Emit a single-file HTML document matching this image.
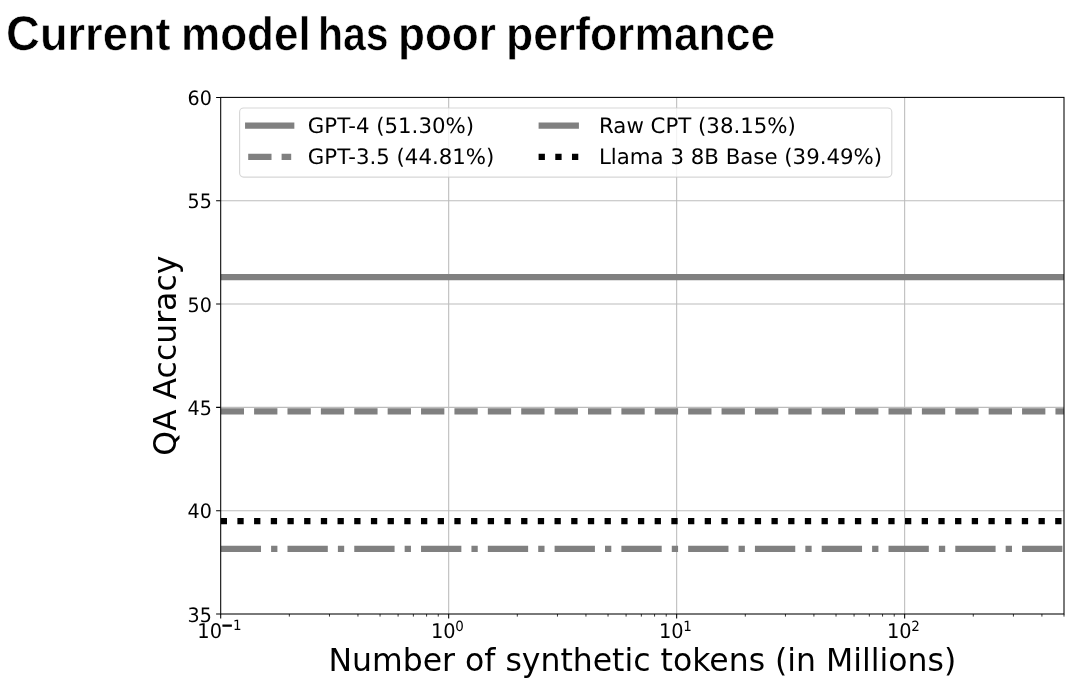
<!DOCTYPE html>
<html lang="en">
<head>
<meta charset="utf-8">
<title>Current model has poor performance</title>
<style>
html,body{margin:0;padding:0;background:#fff;}
body{width:1080px;height:686px;position:relative;overflow:hidden;}
h1{position:absolute;left:0;top:0;margin:0;width:1080px;height:70px;font-family:"Liberation Sans",Arial,sans-serif;font-weight:bold;font-size:47px;line-height:47px;color:#000;text-rendering:geometricPrecision;}
h1 b{font-size:48.8px;font-weight:bold;}
h1 span{position:absolute;top:10.05px;white-space:nowrap;transform-origin:0 0;-webkit-text-stroke:0.6px #fff;}
</style>
</head>
<body>
<svg width="1080" height="686" viewBox="0 0 1080 686" style="position:absolute;left:0;top:0">
<defs><clipPath id="ax"><rect x="220.7" y="97.4" width="843.3" height="516.6"/></clipPath></defs>
<path d="M220.7 510.68H1064M220.7 407.36H1064M220.7 304.04H1064M220.7 200.72H1064M448.68 97.4V614M676.66 97.4V614M904.65 97.4V614" stroke="#b0b0b0" stroke-opacity="0.85" stroke-width="1.07" fill="none"/>
<g clip-path="url(#ax)" fill="none" stroke-width="6.3">
<path d="M220.7 277.18H1064" stroke="#808080"/>
<path d="M220.7 411.29H1064" stroke="#808080" stroke-dasharray="23.31 10.08"/>
<path d="M220.7 548.91H1064" stroke="#808080" stroke-dasharray="40.32 10.08 6.3 10.08"/>
<path d="M220.7 521.22H1064" stroke="#000" stroke-dasharray="6.3 10.39"/>
</g>
<path d="M220.7 614h-4.6M220.7 510.68h-4.6M220.7 407.36h-4.6M220.7 304.04h-4.6M220.7 200.72h-4.6M220.7 97.4h-4.6M220.7 614v4.6M448.68 614v4.6M676.66 614v4.6M904.65 614v4.6" stroke="#000" stroke-width="1.05" fill="none"/>
<path d="M289.33 614v2.6M329.48 614v2.6M357.96 614v2.6M380.05 614v2.6M398.1 614v2.6M413.37 614v2.6M426.59 614v2.6M438.25 614v2.6M517.31 614v2.6M557.46 614v2.6M585.94 614v2.6M608.04 614v2.6M626.09 614v2.6M641.35 614v2.6M654.57 614v2.6M666.23 614v2.6M745.29 614v2.6M785.44 614v2.6M813.92 614v2.6M836.02 614v2.6M854.07 614v2.6M869.33 614v2.6M882.55 614v2.6M894.22 614v2.6M973.28 614v2.6M1013.42 614v2.6M1041.91 614v2.6M1064 614v2.6" stroke="#000" stroke-width="0.8" fill="none"/>
<rect x="220.7" y="97.4" width="843.3" height="516.6" fill="none" stroke="#000" stroke-width="1.05"/>
<g font-family="DejaVu Sans, Liberation Sans, sans-serif" font-size="20" fill="#000">
<text transform="translate(211.8 621.6) scale(0.96 1)" font-size="19.9" text-anchor="end" text-rendering="geometricPrecision">35</text>
<text transform="translate(211.8 518.28) scale(0.96 1)" font-size="19.9" text-anchor="end" text-rendering="geometricPrecision">40</text>
<text transform="translate(211.8 414.96) scale(0.96 1)" font-size="19.9" text-anchor="end" text-rendering="geometricPrecision">45</text>
<text transform="translate(211.8 311.64) scale(0.96 1)" font-size="19.9" text-anchor="end" text-rendering="geometricPrecision">50</text>
<text transform="translate(211.8 208.32) scale(0.96 1)" font-size="19.9" text-anchor="end" text-rendering="geometricPrecision">55</text>
<text transform="translate(211.8 105) scale(0.96 1)" font-size="19.9" text-anchor="end" text-rendering="geometricPrecision">60</text>
<text transform="translate(219.4 638.1) scale(0.96 1)" font-size="20.2" text-anchor="middle" text-rendering="geometricPrecision">10<tspan font-size="14" dx="-0.4" dy="-7.2"><tspan stroke="#000" stroke-width="1.1" dy="-7.9">−</tspan><tspan dy="0.2">1</tspan></tspan></text>
<text transform="translate(447.38 638.1) scale(0.96 1)" font-size="20.2" text-anchor="middle" text-rendering="geometricPrecision">10<tspan font-size="14" dx="-0.4" dy="-7.2">0</tspan></text>
<text transform="translate(675.36 638.1) scale(0.96 1)" font-size="20.2" text-anchor="middle" text-rendering="geometricPrecision">10<tspan font-size="14" dx="-0.4" dy="-7.2">1</tspan></text>
<text transform="translate(903.35 638.1) scale(0.96 1)" font-size="20.2" text-anchor="middle" text-rendering="geometricPrecision">10<tspan font-size="14" dx="-0.4" dy="-7.2">2</tspan></text>
</g>
<g font-family="DejaVu Sans, Liberation Sans, sans-serif" font-size="31.5" fill="#000">
<text x="642.35" y="671" text-anchor="middle">Number of synthetic tokens (in Millions)</text>
<text transform="translate(176.0 355.7) rotate(-90)" text-anchor="middle">QA Accuracy</text>
</g>
<rect x="239.6" y="108.0" width="652.2" height="69.1" rx="4" ry="4" fill="#fff" fill-opacity="0.8" stroke="#ccc" stroke-opacity="0.8" stroke-width="1.1"/>
<g fill="none" stroke-width="6.3">
<path d="M248.2 125.65H291.2" stroke="#808080" stroke-linecap="square"/>
<path d="M248.2 156.9H291.2" stroke="#808080" stroke-dasharray="23.31 10.08"/>
<path d="M538.6 125.65H581.6" stroke="#808080" stroke-dasharray="40.32 10.08 6.3 10.08"/>
<path d="M538.6 156.9H581.6" stroke="#000" stroke-dasharray="6.3 10.39"/>
</g>
<g font-family="DejaVu Sans, Liberation Sans, sans-serif" font-size="21.3" fill="#000" text-rendering="geometricPrecision">
<text x="307.8" y="132.5">GPT-4 (51.30%)</text>
<text x="307.8" y="164.25">GPT-3.5 (44.81%)</text>
<text x="599" y="132.5">Raw CPT (38.15%)</text>
<text x="599" y="164.25">Llama 3 8B Base (39.49%)</text>
</g>
</svg>
<h1><span style="left:5.5px;transform:scaleX(0.962)"><b>C</b>urrent</span> <span style="left:180.75px;transform:scaleX(0.9375)">model</span> <span style="left:318.25px;transform:scaleX(0.8718)">has</span> <span style="left:398.25px;transform:scaleX(0.9382)">poor</span> <span style="left:505.75px;transform:scaleX(0.9455)">performance</span></h1>

</body>
</html>
